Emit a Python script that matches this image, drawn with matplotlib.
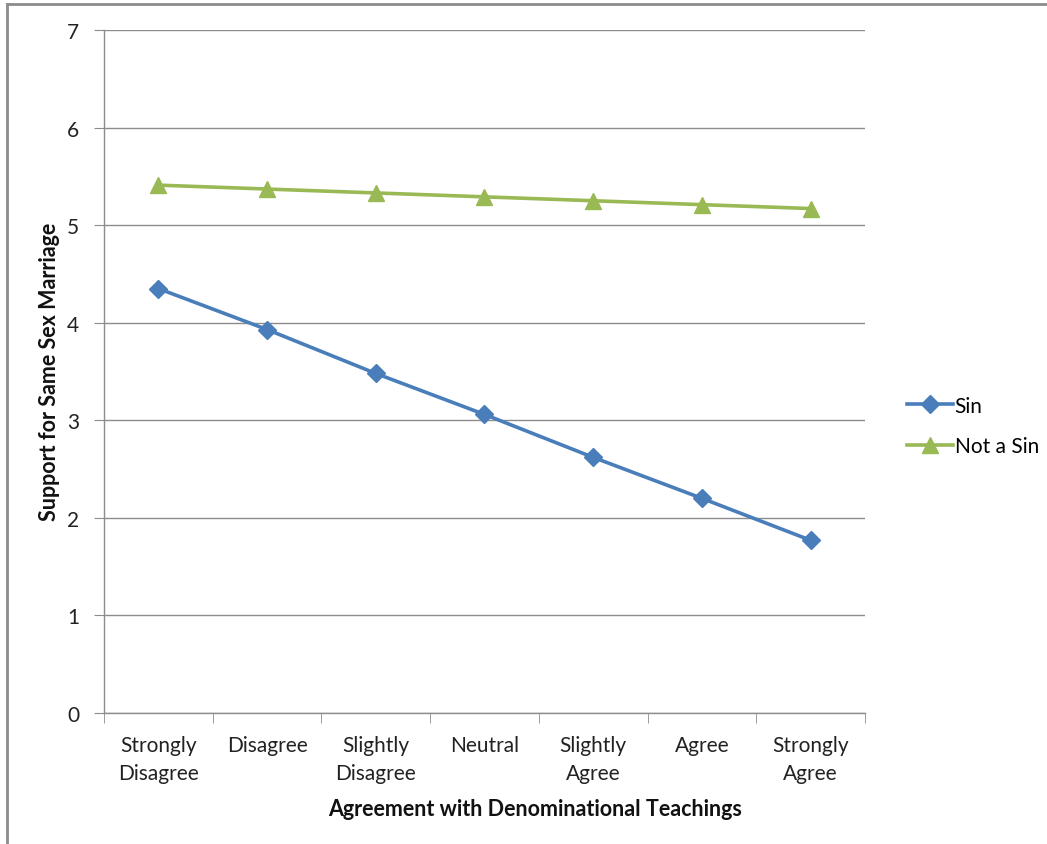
import matplotlib
matplotlib.use("Agg")
import matplotlib.pyplot as plt
from matplotlib.lines import Line2D
import numpy as np

plt.rcParams['font.family'] = ['Lato', 'DejaVu Sans']

categories = ["Strongly\nDisagree", "Disagree", "Slightly\nDisagree", "Neutral",
              "Slightly\nAgree", "Agree", "Strongly\nAgree"]
sin_values = [4.35, 3.93, 3.48, 3.06, 2.62, 2.20, 1.77]
not_sin_values = [5.41, 5.37, 5.33, 5.29, 5.25, 5.21, 5.17]
y_ticks = [0, 1, 2, 3, 4, 5, 6, 7]

W, H = 1047, 845
fig = plt.figure(figsize=(W / 100, H / 100), dpi=100)
ax_l, ax_r, ax_t, ax_b = 104, 865, 31, 714
ax = fig.add_axes([ax_l / W, 1 - ax_b / H, (ax_r - ax_l) / W, (ax_b - ax_t) / H])

x = np.arange(len(categories))
blue = "#4A7EBB"
green = "#98B954"
ax.plot(x, sin_values, color=blue, lw=2.6, marker="D", ms=9, label="Sin", zorder=3)
ax.plot(x, not_sin_values, color=green, lw=2.6, marker="^", ms=11, label="Not a Sin", zorder=3)

ax.set_xlim(-0.5, len(categories) - 0.5)
ax.set_ylim(0, 7)
ax.set_yticks(y_ticks)
ax.yaxis.grid(True, color="#8C8C8C", lw=1.0)
ax.set_axisbelow(True)

ax.set_xticks(x)
ax.set_xticklabels(categories, fontsize=15, color="#222222", linespacing=1.5, va="top")
ax.set_xticks(np.arange(-0.5, len(categories)), minor=True)
ax.tick_params(axis="x", which="major", length=0, pad=16)
ax.tick_params(axis="x", which="minor", length=7, color="#8C8C8C", direction="out")
ax.tick_params(axis="y", length=7, color="#8C8C8C", labelsize=15, pad=11, labelcolor="#222222")

for s in ["top", "right"]:
    ax.spines[s].set_visible(False)
for s in ["left", "bottom"]:
    ax.spines[s].set_color("#8C8C8C")
    ax.spines[s].set_linewidth(1.0)

ax.set_xlabel("Agreement with Denominational Teachings", fontsize=15.5, fontweight="bold",
              color="#111111")
ax.set_ylabel("Support for Same Sex Marriage", fontsize=15.5, fontweight="bold",
              color="#111111")
ax.xaxis.set_label_coords((535 - ax_l) / (ax_r - ax_l), (ax_b - 810) / (ax_b - ax_t))
ax.xaxis.label.set_va("center")
ax.yaxis.set_label_coords((50 - ax_l) / (ax_r - ax_l), (ax_b - 372) / (ax_b - ax_t))
ax.yaxis.label.set_va("center")

leg = ax.legend(loc="center left", bbox_to_anchor=(888 / W, 1 - 427 / H),
                bbox_transform=fig.transFigure, frameon=False, fontsize=15,
                handlelength=2.2, handletextpad=0.1, labelspacing=1.0)

# figure border (top and left visible)
fig.add_artist(Line2D([7 / W, 7 / W], [0, 1 - 5 / H], transform=fig.transFigure,
                      color="#8C8C8C", lw=2))
fig.add_artist(Line2D([7 / W, 1], [1 - 5 / H, 1 - 5 / H], transform=fig.transFigure,
                      color="#8C8C8C", lw=2))

fig.savefig("out.png", dpi=100)
